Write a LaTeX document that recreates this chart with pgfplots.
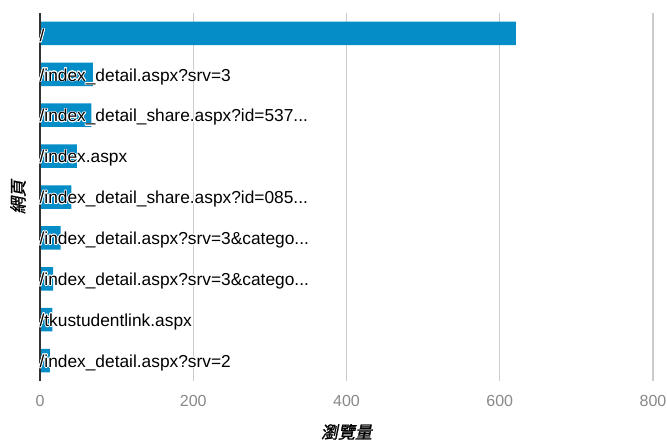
\documentclass[border=0pt]{standalone}
\usepackage{pgfplots}
\pgfplotsset{compat=1.18}
\usepackage{fontspec}
\usepackage{contour}
\setmainfont{Liberation Sans}
\newfontfamily\cjk[FakeSlant=0.2,FakeBold=1.2]{Noto Sans CJK TC}
\definecolor{barblue}{HTML}{058DC7}
\definecolor{gridgray}{HTML}{CCCCCC}
\definecolor{tickgray}{HTML}{888888}
\definecolor{axisdark}{HTML}{333333}
\newcommand{\tdots}{...}
\newcommand{\lbl}[1]{\contour{white}{#1}}
\contourlength{0.6pt}
\pgfplotsset{
  common/.style={
    scale only axis,
    width=459.75pt, height=276pt,
    xmin=0, xmax=800,
    ymin=-0.5, ymax=8.5,
    y dir=reverse,
    major tick length=0,
    font=\fontsize{12}{14}\selectfont,
    /pgf/number format/assume math mode=true,
    separate axis lines,
  },
}
\begin{document}
\begin{tikzpicture}
% grid, x ticks and titles underneath
\begin{axis}[
  common,
  axis x line*=bottom,
  axis y line*=left,
  x axis line style={draw=none},
  y axis line style={draw=none},
  xtick={0,200,400,600,800},
  ytick=\empty,
  xmajorgrids,
  grid style={gridgray, line width=1.1pt},
  xticklabel style={tickgray, yshift=-7.5pt},
  xlabel={\cjk 瀏覽量},
  ylabel={\cjk 網頁},
  label style={font=\fontsize{12.75}{14}\selectfont},
  xlabel style={at={(axis description cs:0.5,0)}, anchor=center, yshift=-38.25pt},
  ylabel style={at={(axis description cs:0,0.5)}, anchor=center, yshift=16.5pt},
]
\end{axis}
% bars with their page labels on top
\begin{axis}[
  common,
  axis on top,
  xbar, bar width=0.575,
  xtick=\empty,
  ytick={0,1,2,3,4,5,6,7,8},
  yticklabels={{\lbl{/}},
    {\lbl{/index\_detail.aspx?srv=3}},
    {\lbl{/index\_detail\_share.aspx?id=537\tdots}},
    {\lbl{/index.aspx}},
    {\lbl{/index\_detail\_share.aspx?id=085\tdots}},
    {\lbl{/index\_detail.aspx?srv=3\&catego\tdots}},
    {\lbl{/index\_detail.aspx?srv=3\&catego\tdots}},
    {\lbl{/tkustudentlink.aspx}},
    {\lbl{/index\_detail.aspx?srv=2}}},
  axis x line=none,
  axis y line*=left,
  y axis line style={axisdark, line width=1.4pt, -},
  yticklabel style={anchor=west, inner xsep=0pt, xshift=-0.5pt, yshift=-2pt, black,
    font=\fontsize{13}{15}\selectfont},
]
\addplot[fill=barblue, draw=none] coordinates {
  (621,0)
  (69,1)
  (67,2)
  (48,3)
  (41,4)
  (27,5)
  (17,6)
  (16,7)
  (13,8)
};
\end{axis}
\pgfresetboundingbox
\path (-30pt,-43.5pt) rectangle (470.25pt,285.75pt);
\end{tikzpicture}
\end{document}
